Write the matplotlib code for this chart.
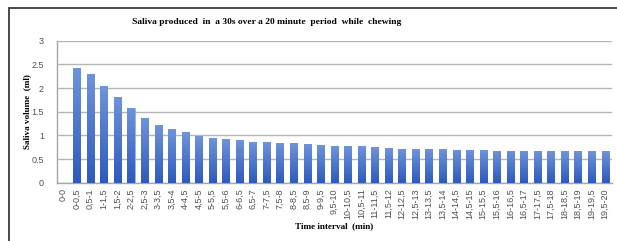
import matplotlib
matplotlib.use("Agg")
import matplotlib.pyplot as plt
import numpy as np
from matplotlib.patches import Rectangle
from matplotlib.colors import LinearSegmentedColormap

categories = ["0-0", "0-0,5", "0,5-1", "1-1,5", "1,5-2", "2-2,5", "2,5-3", "3-3,5", "3,5-4",
              "4-4,5", "4,5-5", "5-5,5", "5,5-6", "6-6,5", "6,5-7", "7-7,5", "7,5-8", "8-8,5",
              "8,5-9", "9-9,5", "9,5-10", "10-10,5", "10,5-11", "11-11,5", "11,5-12", "12-12,5",
              "12,5-13", "13-13,5", "13,5-14", "14-14,5", "14,5-15", "15-15,5", "15,5-16",
              "16-16,5", "16,5-17", "17-17,5", "17,5-18", "18-18,5", "18,5-19", "19-19,5", "19,5-20"]
saliva_ml = [0, 2.42, 2.30, 2.04, 1.81, 1.58, 1.37, 1.21, 1.14, 1.07, 0.99, 0.95, 0.92, 0.91,
             0.87, 0.86, 0.84, 0.83, 0.82, 0.79, 0.78, 0.78, 0.77, 0.75, 0.74, 0.72, 0.71,
             0.71, 0.71, 0.70, 0.70, 0.70, 0.68, 0.68, 0.68, 0.67, 0.67, 0.67, 0.67, 0.67, 0.67]
yticks = [0, 0.5, 1, 1.5, 2, 2.5, 3]
ytick_labels = ["0", "0.5", "1", "1.5", "2", "2.5", "3"]

W, H = 617, 241
fig = plt.figure(figsize=(W / 100, H / 100), dpi=100)
fig.patch.set_facecolor("white")

# outer chart frame
fig.patches.append(Rectangle((9.3 / W, -0.1), 1.2, (H - 8) / H + 0.1, transform=fig.transFigure,
                             fill=False, edgecolor="#3a3a3a", linewidth=1.3))

ax = fig.add_axes([56.5 / W, 1 - 182.7 / H, 555.3 / W, 142 / H])
x = np.arange(len(categories))
bars = ax.bar(x, saliva_ml, width=0.52, color="#4472c4", edgecolor="#9ab3e6", linewidth=0.4, zorder=3)

cmap = LinearSegmentedColormap.from_list("g", ["#2d5bbd", "#6f93db"])
grad = np.linspace(0, 1, 64).reshape(-1, 1)
for b in bars:
    h = b.get_height()
    if h <= 0:
        continue
    x0 = b.get_x()
    im = ax.imshow(grad, extent=(x0, x0 + b.get_width(), 0, h), origin="lower",
                   cmap=cmap, aspect="auto", zorder=3.5)
    im.set_clip_path(b)

ax.set_xlim(-0.5, len(categories) - 0.5)
ax.set_ylim(0, 3)
ax.set_yticks(yticks)
ax.set_yticklabels(ytick_labels)
ax.set_xticks(x)
ax.set_xticklabels(categories, rotation=90)
ax.grid(axis="y", color="#b5b5b5", linewidth=1.0, zorder=0)
ax.tick_params(axis="both", length=0, labelsize=6.5, colors="#505050", labelcolor="#505050")
ax.tick_params(axis="y", pad=9)
ax.tick_params(axis="x", pad=4)
for lbl in ax.get_xticklabels() + ax.get_yticklabels():
    lbl.set_family("Liberation Sans")
for s in ["top", "right"]:
    ax.spines[s].set_visible(False)
ax.spines["left"].set_color("#a6a6a6")
ax.spines["bottom"].set_color("#a6a6a6")
ax.spines["left"].set_linewidth(1.0)
ax.spines["bottom"].set_linewidth(1.0)

fig.text(267 / W, 1 - 22.5 / H, "Saliva produced  in  a 30s over a 20 minute  period  while  chewing",
         ha="center", va="center", fontsize=6.8, fontweight="bold", family="Liberation Serif")
fig.text(27 / W, 1 - 111.5 / H, "Saliva volume  (ml)", rotation=90, ha="center", va="center",
         fontsize=6.6, fontweight="bold", family="Liberation Serif")
fig.text(334 / W, 1 - 226 / H, "Time interval  (min)", ha="center", va="center",
         fontsize=6.6, fontweight="bold", family="Liberation Serif")

fig.savefig("out.png", dpi=100)
